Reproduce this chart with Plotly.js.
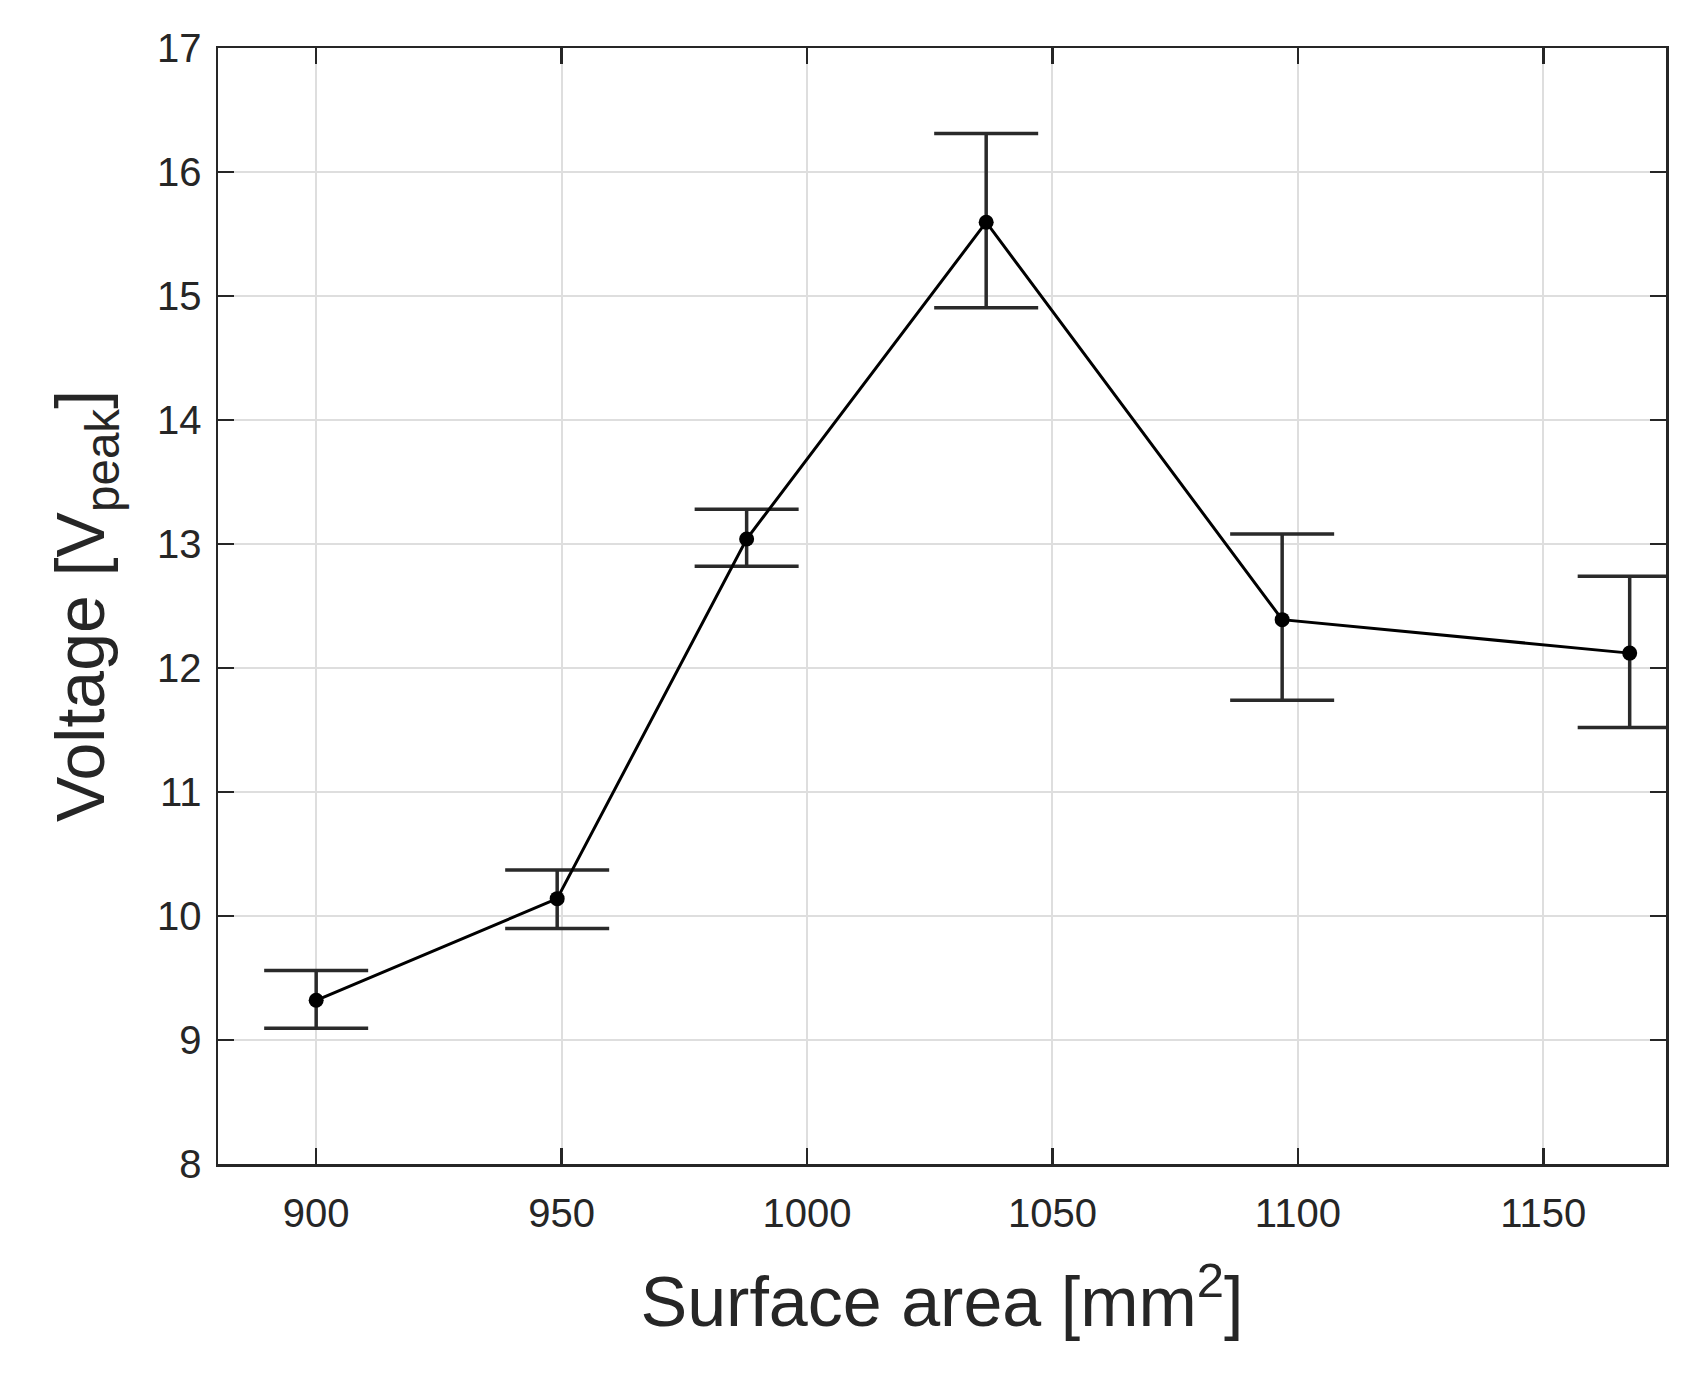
<!DOCTYPE html>
<html>
<head>
<meta charset="utf-8">
<script src="https://cdn.plot.ly/plotly-3.0.1.min.js"></script>
<style>
  html, body { margin: 0; padding: 0; background: #fff; }
  #chart { width: 1698px; height: 1375px; }
</style>
</head>
<body>
<div id="chart"></div>
<script>
// measured values, surface area vs peak voltage
var area = [900, 949.1, 987.7, 1036.5, 1096.8, 1167.6];
var voltage = [9.32, 10.14, 13.04, 15.595, 12.39, 12.12];
var upper = [9.56, 10.37, 13.28, 16.31, 13.08, 12.74];
var lower = [9.095, 9.90, 12.82, 14.905, 11.74, 11.52];

var errPlus = [], errMinus = [];
for (var i = 0; i < voltage.length; i++) {
  errPlus.push(upper[i] - voltage[i]);
  errMinus.push(voltage[i] - lower[i]);
}

var trace1 = {
  x: area,
  y: voltage,
  mode: 'lines+markers',
  type: 'scatter',
  line: {color: '#000', width: 3},
  marker: {color: '#000', size: 15},
  error_y: {
    type: 'data',
    symmetric: false,
    array: errPlus,
    arrayminus: errMinus,
    color: '#2a2a2a',
    thickness: 3.5,
    width: 52
  },
  cliponaxis: true,
  hoverinfo: 'none'
};

var axisStyle = {
  showline: true,
  linecolor: '#262626',
  linewidth: 2.5,
  mirror: 'ticks',
  ticks: 'inside',
  ticklen: 16,
  tickwidth: 2.5,
  tickcolor: '#262626',
  showgrid: true,
  gridcolor: '#dedede',
  gridwidth: 2,
  zeroline: false,
  tickfont: {family: 'Liberation Sans, Arial, sans-serif', size: 40, color: '#262626'}
};

var layout = {
  width: 1698,
  height: 1375,
  margin: {l: 218, r: 32, t: 48, b: 211},
  paper_bgcolor: '#fff',
  plot_bgcolor: '#fff',
  showlegend: false,
  xaxis: Object.assign({}, axisStyle, {
    range: [880, 1175],
    tickvals: [900, 950, 1000, 1050, 1100, 1150],
    ticklabelstandoff: 12,
    title: {
      text: 'Surface area [mm<sup>2</sup>]',
      font: {family: 'Liberation Sans, Arial, sans-serif', size: 70, color: '#262626'},
      standoff: 44
    }
  }),
  yaxis: Object.assign({}, axisStyle, {
    range: [8, 17],
    dtick: 1,
    ticklabelstandoff: 6,
    title: {
      text: 'Voltage [V<sub>peak</sub>]',
      font: {family: 'Liberation Sans, Arial, sans-serif', size: 68, color: '#262626'},
      standoff: 30
    }
  })
};

Plotly.newPlot(document.getElementById('chart'), [trace1], layout, {staticPlot: true});
</script>
</body>
</html>
